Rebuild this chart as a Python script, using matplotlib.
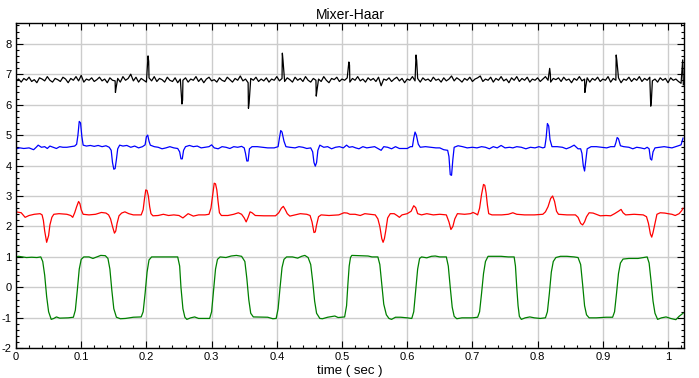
import numpy as np
import matplotlib
matplotlib.use("Agg")
import matplotlib.pyplot as plt
from matplotlib.ticker import MultipleLocator

# -----------------------------
# Data
# -----------------------------
# black: noisy trace, one sample every 4 ms, plus narrow spikes
black_dt = 0.004
black_noise = [
    6.78, 6.84, 6.74, 6.86, 6.80, 6.90, 6.76, 6.82, 6.72, 6.88, 6.84, 6.78, 6.92, 6.80, 6.74, 6.86,
    6.82, 6.76, 6.90, 6.84, 6.72, 6.86, 6.80, 6.92, 6.78, 6.96, 6.74, 6.84, 6.80, 6.88, 6.76, 6.82,
    6.90, 6.78, 6.84, 6.72, 6.88, 6.80, 6.78, 6.86, 6.74, 6.92, 6.80, 6.86, 7.00, 6.78, 6.90, 6.74,
    6.86, 6.80, 6.74, 6.88, 6.78, 6.92, 6.76, 6.86, 6.82, 6.74, 6.90, 6.80, 6.76, 6.88, 6.72, 6.84,
    6.80, 6.88, 6.74, 6.84, 6.80, 6.92, 6.76, 6.86, 6.72, 6.84, 6.90, 6.78, 6.82, 6.74, 6.88, 6.80,
    6.76, 6.90, 6.82, 6.74, 6.86, 6.80, 6.94, 6.78, 6.84, 6.72, 6.86, 6.80, 6.90, 6.76, 6.84, 6.78,
    6.88, 6.74, 6.84, 6.80, 6.92, 6.78, 6.86, 6.76, 6.88, 6.82, 6.74, 6.90, 6.80, 6.86, 6.76, 6.92,
    6.80, 6.74, 6.86, 6.80, 6.84, 6.76, 6.92, 6.80, 6.72, 6.86, 6.82, 6.90, 6.76, 6.84, 6.80, 6.88,
    6.74, 6.86, 6.80, 6.92, 6.78, 6.84, 6.74, 6.88, 6.80, 6.86, 6.76, 6.90, 6.62, 6.84, 6.80, 6.88,
    6.76, 6.84, 6.90, 6.78, 6.86, 6.72, 6.84, 6.80, 6.92, 6.78, 6.86, 6.74, 6.88, 6.80, 6.84, 6.76,
    6.90, 6.80, 6.84, 6.74, 6.88, 6.78, 6.84, 6.94, 6.78, 6.88, 6.82, 6.74, 6.86, 6.80, 6.90, 6.76,
    6.84, 6.88, 6.94, 6.76, 6.84, 6.80, 6.90, 6.74, 6.86, 6.80, 6.92, 6.78, 6.84, 6.72, 6.88, 6.80,
    6.92, 6.76, 6.86, 6.80, 6.90, 6.74, 6.84, 6.80, 6.88, 6.76, 6.84, 6.92, 6.80, 6.74, 6.86, 6.82,
    6.88, 6.76, 6.90, 6.80, 6.84, 6.72, 6.86, 6.80, 6.92, 6.78, 6.84, 6.88, 6.74, 6.86, 6.80, 6.90,
    6.76, 6.84, 6.80, 6.92, 6.74, 6.86, 6.80, 6.88, 6.72, 6.84, 6.80, 6.90, 6.76, 6.86, 6.80, 6.92,
    6.76, 6.86, 6.80, 6.90, 6.78, 6.84, 6.74, 6.88, 6.80, 6.86, 6.72, 6.88, 6.80, 6.84, 6.76, 6.70,
]
black_spikes = [
    (0.1525, 6.40), (0.1535, 6.55),
    (0.2025, 7.60), (0.2035, 7.42),
    (0.2545, 6.02), (0.2555, 6.15),
    (0.3565, 5.88), (0.3575, 6.05),
    (0.4085, 7.69), (0.4095, 7.45),
    (0.4605, 6.28), (0.4615, 6.45),
    (0.5105, 7.40), (0.5115, 7.30),
    (0.6135, 7.63), (0.6145, 7.45),
    (0.8185, 7.19), (0.8195, 7.00),
    (0.8725, 6.40), (0.8735, 6.55),
    (0.9205, 7.63), (0.9215, 7.45),
    (0.9735, 5.95), (0.9745, 6.15),
    (1.0225, 7.47), (1.0235, 6.65),
]

blue_pts = [
    (0.000, 4.55), (0.006, 4.58), (0.012, 4.56), (0.020, 4.58), (0.027, 4.52), (0.031, 4.60),
    (0.034, 4.67), (0.039, 4.60), (0.044, 4.62), (0.048, 4.56), (0.052, 4.64), (0.057, 4.60),
    (0.062, 4.56), (0.067, 4.62), (0.072, 4.60), (0.078, 4.60), (0.084, 4.62), (0.090, 4.64),
    (0.093, 4.70), (0.095, 5.00), (0.097, 5.45), (0.099, 5.40), (0.101, 4.95), (0.103, 4.67),
    (0.108, 4.64), (0.114, 4.66), (0.120, 4.63), (0.126, 4.66), (0.132, 4.62), (0.138, 4.65),
    (0.143, 4.60), (0.146, 4.50), (0.148, 4.10), (0.150, 3.88), (0.152, 3.90), (0.154, 4.20),
    (0.156, 4.55), (0.159, 4.67), (0.164, 4.64), (0.170, 4.66), (0.176, 4.60), (0.182, 4.64),
    (0.188, 4.58), (0.194, 4.62), (0.198, 4.68), (0.200, 4.95), (0.202, 5.00), (0.204, 4.80),
    (0.206, 4.67), (0.212, 4.62), (0.218, 4.60), (0.224, 4.55), (0.230, 4.58), (0.236, 4.62),
    (0.242, 4.58), (0.248, 4.56), (0.251, 4.45), (0.253, 4.22), (0.255, 4.22), (0.257, 4.50),
    (0.260, 4.62), (0.266, 4.66), (0.272, 4.62), (0.278, 4.64), (0.284, 4.58), (0.290, 4.60),
    (0.296, 4.62), (0.300, 4.68), (0.304, 4.58), (0.310, 4.55), (0.316, 4.62), (0.322, 4.60),
    (0.328, 4.56), (0.334, 4.62), (0.340, 4.60), (0.346, 4.63), (0.350, 4.58), (0.352, 4.40),
    (0.354, 4.15), (0.356, 4.15), (0.358, 4.55), (0.362, 4.62), (0.370, 4.62), (0.378, 4.60),
    (0.386, 4.58), (0.396, 4.58), (0.402, 4.62), (0.404, 4.90), (0.406, 5.15), (0.408, 5.10),
    (0.411, 4.80), (0.414, 4.62), (0.420, 4.60), (0.428, 4.58), (0.434, 4.62), (0.440, 4.60),
    (0.446, 4.56), (0.452, 4.58), (0.455, 4.45), (0.457, 4.10), (0.459, 3.98), (0.461, 4.10),
    (0.463, 4.50), (0.466, 4.67), (0.472, 4.60), (0.478, 4.62), (0.484, 4.55), (0.490, 4.60),
    (0.496, 4.62), (0.502, 4.58), (0.507, 4.67), (0.511, 4.60), (0.516, 4.62), (0.521, 4.58),
    (0.526, 4.55), (0.532, 4.62), (0.538, 4.58), (0.544, 4.60), (0.550, 4.62), (0.556, 4.55),
    (0.560, 4.50), (0.564, 4.62), (0.570, 4.60), (0.576, 4.55), (0.582, 4.62), (0.588, 4.56),
    (0.594, 4.56), (0.600, 4.56), (0.605, 4.62), (0.608, 4.62), (0.610, 4.90), (0.612, 5.10),
    (0.614, 5.00), (0.617, 4.70), (0.620, 4.60), (0.628, 4.62), (0.636, 4.60), (0.644, 4.58),
    (0.650, 4.58), (0.656, 4.52), (0.662, 4.50), (0.664, 4.30), (0.666, 3.70), (0.668, 3.68),
    (0.670, 4.20), (0.672, 4.60), (0.678, 4.65), (0.685, 4.62), (0.692, 4.58), (0.700, 4.60),
    (0.707, 4.58), (0.714, 4.62), (0.720, 4.60), (0.726, 4.55), (0.732, 4.62), (0.738, 4.58),
    (0.744, 4.66), (0.750, 4.58), (0.757, 4.60), (0.762, 4.58), (0.768, 4.62), (0.775, 4.60),
    (0.782, 4.55), (0.789, 4.60), (0.796, 4.58), (0.802, 4.62), (0.808, 4.58), (0.811, 4.60),
    (0.813, 4.90), (0.815, 5.38), (0.817, 5.30), (0.819, 4.85), (0.822, 4.62), (0.830, 4.62),
    (0.838, 4.60), (0.844, 4.55), (0.850, 4.60), (0.856, 4.67), (0.862, 4.55), (0.866, 4.55),
    (0.868, 4.40), (0.870, 4.00), (0.872, 3.82), (0.874, 4.20), (0.876, 4.55), (0.882, 4.62),
    (0.890, 4.62), (0.898, 4.60), (0.906, 4.58), (0.912, 4.62), (0.918, 4.62), (0.920, 4.75),
    (0.922, 4.92), (0.924, 4.88), (0.927, 4.65), (0.932, 4.62), (0.940, 4.60), (0.946, 4.55),
    (0.952, 4.60), (0.958, 4.58), (0.964, 4.55), (0.968, 4.60), (0.971, 4.55), (0.973, 4.22),
    (0.975, 4.18), (0.977, 4.45), (0.980, 4.58), (0.987, 4.60), (0.994, 4.62), (1.000, 4.60),
    (1.006, 4.58), (1.012, 4.62), (1.016, 4.65), (1.020, 4.68), (1.023, 4.90),
]

red_pts = [
    (0.000, 2.48), (0.008, 2.45), (0.014, 2.30), (0.020, 2.36), (0.028, 2.40), (0.037, 2.42),
    (0.040, 2.38), (0.042, 2.20), (0.044, 1.85), (0.047, 1.48), (0.050, 1.70), (0.052, 2.05),
    (0.055, 2.30), (0.058, 2.40), (0.066, 2.42), (0.078, 2.40), (0.084, 2.36), (0.087, 2.30),
    (0.090, 2.45), (0.093, 2.65), (0.096, 2.82), (0.098, 2.75), (0.100, 2.55), (0.103, 2.40),
    (0.112, 2.38), (0.122, 2.40), (0.131, 2.46), (0.138, 2.44), (0.142, 2.38), (0.145, 2.25),
    (0.148, 2.00), (0.151, 1.78), (0.153, 1.85), (0.155, 2.10), (0.158, 2.35), (0.162, 2.44),
    (0.167, 2.48), (0.173, 2.42), (0.180, 2.38), (0.192, 2.38), (0.195, 2.55), (0.197, 2.90),
    (0.199, 3.20), (0.201, 3.18), (0.203, 3.00), (0.205, 2.65), (0.207, 2.42), (0.210, 2.35),
    (0.218, 2.36), (0.226, 2.40), (0.234, 2.36), (0.242, 2.38), (0.250, 2.36), (0.256, 2.28),
    (0.264, 2.42), (0.272, 2.34), (0.280, 2.38), (0.290, 2.38), (0.296, 2.40), (0.299, 2.60),
    (0.302, 3.10), (0.304, 3.42), (0.306, 3.40), (0.308, 3.20), (0.310, 2.80), (0.312, 2.45),
    (0.315, 2.36), (0.325, 2.36), (0.334, 2.40), (0.341, 2.45), (0.346, 2.40), (0.350, 2.28),
    (0.353, 2.15), (0.356, 2.30), (0.359, 2.48), (0.362, 2.45), (0.367, 2.36), (0.380, 2.35),
    (0.398, 2.35), (0.403, 2.45), (0.407, 2.60), (0.410, 2.66), (0.413, 2.55), (0.416, 2.42),
    (0.420, 2.34), (0.428, 2.38), (0.436, 2.42), (0.446, 2.40), (0.451, 2.36), (0.454, 2.15),
    (0.457, 1.80), (0.459, 1.82), (0.461, 2.05), (0.464, 2.32), (0.468, 2.38), (0.480, 2.36),
    (0.495, 2.38), (0.503, 2.45), (0.508, 2.44), (0.512, 2.40), (0.520, 2.40), (0.528, 2.36),
    (0.535, 2.42), (0.543, 2.40), (0.551, 2.38), (0.555, 2.25), (0.558, 2.00), (0.561, 1.60),
    (0.563, 1.48), (0.565, 1.60), (0.567, 1.85), (0.570, 2.28), (0.574, 2.42), (0.580, 2.42),
    (0.585, 2.35), (0.588, 2.30), (0.592, 2.38), (0.600, 2.42), (0.606, 2.50), (0.610, 2.68),
    (0.613, 2.62), (0.616, 2.42), (0.622, 2.38), (0.630, 2.42), (0.640, 2.38), (0.650, 2.40),
    (0.660, 2.38), (0.664, 2.15), (0.667, 1.90), (0.670, 2.00), (0.673, 2.25), (0.677, 2.42),
    (0.688, 2.40), (0.697, 2.42), (0.701, 2.46), (0.705, 2.42), (0.708, 2.38), (0.711, 2.60),
    (0.714, 3.05), (0.717, 3.38), (0.719, 3.35), (0.721, 3.10), (0.723, 2.70), (0.725, 2.42),
    (0.730, 2.38), (0.745, 2.38), (0.755, 2.40), (0.762, 2.45), (0.768, 2.40), (0.780, 2.38),
    (0.795, 2.38), (0.808, 2.40), (0.812, 2.48), (0.816, 2.65), (0.820, 2.92), (0.823, 3.00),
    (0.826, 2.82), (0.829, 2.50), (0.832, 2.40), (0.845, 2.38), (0.858, 2.38), (0.862, 2.30),
    (0.866, 2.10), (0.869, 2.05), (0.872, 2.15), (0.875, 2.32), (0.879, 2.45), (0.885, 2.44),
    (0.890, 2.40), (0.896, 2.35), (0.905, 2.36), (0.912, 2.35), (0.918, 2.42), (0.924, 2.50),
    (0.928, 2.56), (0.931, 2.45), (0.935, 2.38), (0.948, 2.40), (0.962, 2.38), (0.967, 2.32),
    (0.970, 2.10), (0.973, 1.75), (0.975, 1.65), (0.977, 1.80), (0.980, 2.10), (0.983, 2.40),
    (0.988, 2.45), (0.995, 2.44), (1.000, 2.42), (1.006, 2.40), (1.011, 2.36), (1.017, 2.42),
    (1.021, 2.52), (1.023, 2.60),
]

green_pts = [
    (0.000, 1.00), (0.004, 1.02), (0.010, 1.00), (0.016, 0.98), (0.024, 0.99), (0.032, 0.98),
    (0.038, 1.00), (0.041, 0.85), (0.044, 0.40), (0.047, -0.30), (0.050, -0.80), (0.054, -1.05),
    (0.058, -1.02), (0.062, -0.97), (0.067, -1.01), (0.080, -1.00), (0.088, -0.98), (0.091, -0.75),
    (0.094, -0.10), (0.097, 0.60), (0.100, 0.92), (0.104, 1.00), (0.112, 1.00), (0.118, 0.95),
    (0.124, 1.00), (0.130, 1.05), (0.137, 1.04), (0.141, 0.95), (0.144, 0.60), (0.147, -0.10),
    (0.150, -0.70), (0.154, -0.98), (0.160, -1.03), (0.168, -1.02), (0.180, -0.98), (0.192, -0.97),
    (0.195, -0.80), (0.198, -0.20), (0.201, 0.50), (0.204, 0.90), (0.208, 1.00), (0.248, 1.00),
    (0.251, 0.70), (0.253, 0.00), (0.256, -0.70), (0.259, -0.98), (0.262, -1.05), (0.268, -1.00),
    (0.274, -0.97), (0.280, -1.02), (0.297, -1.02), (0.300, -0.80), (0.303, -0.10), (0.306, 0.60),
    (0.309, 0.92), (0.313, 1.00), (0.322, 0.98), (0.330, 1.03), (0.338, 1.05), (0.346, 1.02),
    (0.351, 0.85), (0.354, 0.30), (0.357, -0.40), (0.360, -0.85), (0.364, -0.97), (0.386, -0.98),
    (0.394, -1.03), (0.399, -1.02), (0.402, -0.70), (0.405, 0.00), (0.408, 0.65), (0.411, 0.92),
    (0.415, 1.00), (0.424, 1.00), (0.432, 0.96), (0.438, 1.02), (0.443, 1.05), (0.448, 0.98),
    (0.452, 0.75), (0.455, 0.20), (0.458, -0.45), (0.461, -0.85), (0.466, -1.02), (0.470, -1.03),
    (0.478, -0.98), (0.489, -0.94), (0.494, -0.99), (0.504, -0.97), (0.507, -0.60), (0.509, 0.10),
    (0.511, 0.70), (0.513, 0.98), (0.515, 1.05), (0.528, 1.04), (0.540, 1.03), (0.546, 1.00),
    (0.555, 1.00), (0.558, 0.75), (0.561, 0.10), (0.564, -0.55), (0.568, -0.90), (0.572, -1.02),
    (0.576, -1.05), (0.582, -0.98), (0.590, -0.98), (0.600, -1.00), (0.607, -1.02), (0.610, -0.80),
    (0.613, -0.10), (0.616, 0.60), (0.619, 0.95), (0.622, 1.00), (0.630, 0.97), (0.637, 1.02),
    (0.643, 1.03), (0.650, 1.00), (0.660, 1.00), (0.663, 0.70), (0.666, 0.00), (0.669, -0.65),
    (0.672, -0.95), (0.676, -1.03), (0.684, -1.00), (0.700, -1.00), (0.708, -0.98), (0.711, -0.80),
    (0.714, -0.20), (0.717, 0.45), (0.720, 0.85), (0.724, 1.02), (0.744, 1.02), (0.755, 1.00),
    (0.764, 1.00), (0.766, 0.70), (0.768, 0.00), (0.770, -0.60), (0.772, -0.95), (0.775, -1.05),
    (0.781, -1.00), (0.788, -0.97), (0.795, -1.00), (0.804, -1.02), (0.812, -1.00), (0.815, -0.80),
    (0.818, -0.20), (0.821, 0.50), (0.824, 0.85), (0.828, 0.98), (0.835, 1.02), (0.845, 1.02),
    (0.856, 1.00), (0.862, 0.98), (0.866, 0.75), (0.869, 0.10), (0.872, -0.60), (0.875, -0.90),
    (0.879, -1.00), (0.890, -1.00), (0.905, -0.98), (0.915, -0.98), (0.918, -0.80), (0.921, -0.20),
    (0.924, 0.45), (0.927, 0.80), (0.931, 0.93), (0.940, 0.95), (0.954, 0.95), (0.962, 0.98),
    (0.968, 1.00), (0.971, 0.80), (0.974, 0.20), (0.977, -0.45), (0.980, -0.85), (0.984, -1.05),
    (0.990, -1.00), (0.997, -0.97), (1.004, -1.02), (1.012, -1.06), (1.017, -0.95), (1.023, -0.85),
]

x_ticks = [0, 0.1, 0.2, 0.3, 0.4, 0.5, 0.6, 0.7, 0.8, 0.9, 1]
x_labels = ["0", "0.1", "0.2", "0.3", "0.4", "0.5", "0.6", "0.7", "0.8", "0.9", "1"]
y_ticks = [-2, -1, 0, 1, 2, 3, 4, 5, 6, 7, 8]


# -----------------------------
# Helpers
# -----------------------------
def unzip(pts):
    arr = np.array(pts)
    return arr[:, 0], arr[:, 1]


def black_series():
    t = np.arange(len(black_noise)) * black_dt
    st, sv = unzip(black_spikes)
    t_all = np.concatenate([t, st])
    v_all = np.concatenate([np.array(black_noise), sv])
    order = np.argsort(t_all, kind="stable")
    return t_all[order], v_all[order]


# -----------------------------
# Plot
# -----------------------------
plt.rcParams["font.family"] = ["Liberation Sans", "DejaVu Sans"]
plt.rcParams["axes.unicode_minus"] = False

fig = plt.figure(figsize=(6.99, 3.78), dpi=100)
ax = fig.add_axes([16 / 699, 1 - 348.3 / 378, (684 - 16) / 699, (348.3 - 22.7) / 378])

ax.grid(True, which="major", color="#cccccc", lw=1.0)
ax.set_axisbelow(True)

lw = 0.9
bt, bv = black_series()
ax.plot(bt, bv, color="black", lw=lw)
t, v = unzip(blue_pts)
ax.plot(t, v, color="#0000ff", lw=lw)
t, v = unzip(red_pts)
ax.plot(t, v, color="#ff0000", lw=lw)
t, v = unzip(green_pts)
ax.plot(t, v, color="#008000", lw=lw)

ax.set_xlim(0, 1.0245)
ax.set_ylim(-2, 8.69)
ax.set_xticks(x_ticks)
ax.set_xticklabels(x_labels)
ax.set_yticks(y_ticks)
ax.xaxis.set_minor_locator(MultipleLocator(0.02))
ax.yaxis.set_minor_locator(MultipleLocator(0.2))
ax.tick_params(which="both", direction="in", top=True, right=True, labelsize=8, pad=3)
ax.tick_params(which="major", length=5, width=0.8)
ax.tick_params(which="minor", length=2.5, width=0.8)
for s in ax.spines.values():
    s.set_linewidth(1.0)

ax.set_title("Mixer-Haar", fontsize=10, pad=3)
ax.set_xlabel("time ( sec )", fontsize=9.5, labelpad=2)

fig.savefig("out.png", dpi=100)
